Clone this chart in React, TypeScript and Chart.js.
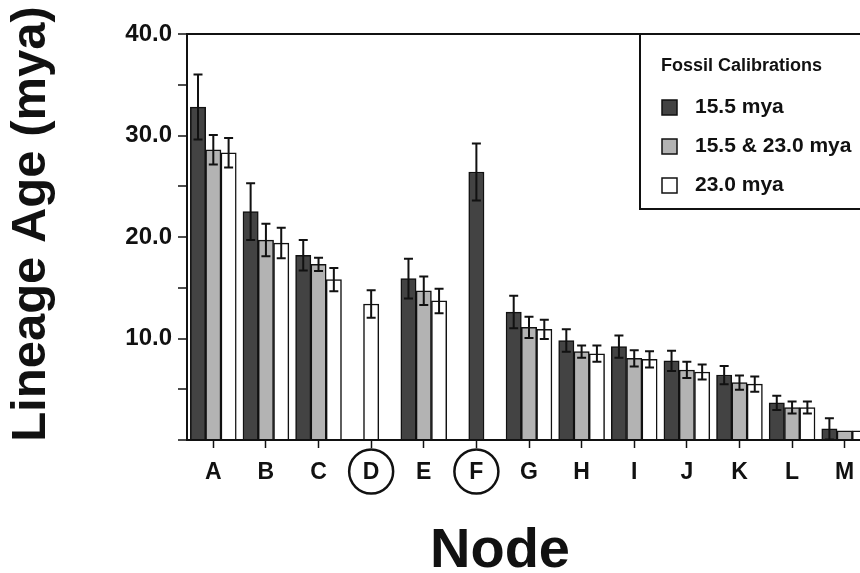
import React, { useEffect, useRef } from 'react';
import { Chart, registerables } from 'chart.js';

Chart.register(...registerables);

// ---------- data ----------
const nodes = ['A', 'B', 'C', 'D', 'E', 'F', 'G', 'H', 'I', 'J', 'K', 'L', 'M'];
const circledNodes = ['D', 'F'];
const seriesLabels = ['15.5 mya', '15.5 & 23.0 mya', '23.0 mya'];
const legendTitle = 'Fossil Calibrations';
const xTitle = 'Node';
const yTitle = 'Lineage Age (mya)';

const cal155 = [32.8, 22.5, 18.2, null, 15.9, 26.4, 12.6, 9.8, 9.2, 7.8, 6.4, 3.65, 1.1];
const cal155Err = [3.2, 2.8, 1.5, null, 1.95, 2.8, 1.6, 1.1, 1.1, 1.0, 0.9, 0.7, 1.05];
const calBoth = [28.6, 19.7, 17.3, null, 14.7, null, 11.1, 8.7, 8.05, 6.9, 5.65, 3.2, 0.9];
const calBothErr = [1.45, 1.6, 0.65, null, 1.4, null, 1.05, 0.6, 0.8, 0.8, 0.7, 0.6, 0];
const cal230 = [28.3, 19.4, 15.8, 13.4, 13.7, null, 10.9, 8.5, 7.95, 6.7, 5.5, 3.2, 0.9];
const cal230Err = [1.45, 1.5, 1.15, 1.35, 1.2, null, 0.95, 0.8, 0.8, 0.75, 0.75, 0.6, 0];

const yMin = 0;
const yMax = 40;
const yStep = 5;
const yLabelEvery = 10;

// ---------- styles ----------
const FONT = '"Liberation Sans", Arial, Helvetica, sans-serif';
const INK = '#111111';
const fills = ['#434343', '#b3b3b3', '#ffffff'];

const errorBarPlugin = {
  id: 'errorBars',
  afterDatasetsDraw(chart: any) {
    const { ctx } = chart;
    const yScale = chart.scales.y;
    ctx.save();
    ctx.strokeStyle = INK;
    ctx.lineWidth = 2;
    chart.data.datasets.forEach((ds: any, i: number) => {
      const meta = chart.getDatasetMeta(i);
      meta.data.forEach((bar: any, j: number) => {
        const v = ds.data[j];
        const e = ds.errors[j];
        if (v == null || !e) return;
        const yHi = yScale.getPixelForValue(v + e);
        const yLo = yScale.getPixelForValue(v - e);
        const x = bar.x;
        const cap = 4.5;
        ctx.beginPath();
        ctx.moveTo(x, yLo);
        ctx.lineTo(x, yHi);
        ctx.moveTo(x - cap, yHi);
        ctx.lineTo(x + cap, yHi);
        ctx.moveTo(x - cap, yLo);
        ctx.lineTo(x + cap, yLo);
        ctx.stroke();
      });
    });
    ctx.restore();
  },
};

const decorPlugin = {
  id: 'decor',
  afterDraw(chart: any) {
    const { ctx, chartArea } = chart;
    const xScale = chart.scales.x;
    ctx.save();

    // circles around calibration nodes
    ctx.strokeStyle = INK;
    ctx.lineWidth = 2.5;
    circledNodes.forEach((n) => {
      const idx = nodes.indexOf(n);
      const cx = xScale.getPixelForValue(idx);
      const cy = xScale.top + 31.5;
      ctx.beginPath();
      ctx.arc(cx, cy, 22, 0, Math.PI * 2);
      ctx.stroke();
    });

    // legend box
    const left = 640;
    const top = chartArea.top;
    const bottom = 209;
    ctx.fillStyle = '#ffffff';
    ctx.fillRect(left, top, chart.width + 20 - left, bottom - top);
    ctx.lineWidth = 2;
    ctx.strokeStyle = INK;
    ctx.strokeRect(left, top, chart.width + 20 - left, bottom - top);

    ctx.fillStyle = INK;
    ctx.textBaseline = 'middle';
    ctx.textAlign = 'left';
    ctx.font = `bold 18px ${FONT}`;
    ctx.fillText(legendTitle, 661, 66);

    chart.data.datasets.forEach((ds: any, i: number) => {
      const cy = 107 + i * 39;
      ctx.fillStyle = ds.backgroundColor;
      ctx.fillRect(662, cy - 7, 15, 15);
      ctx.lineWidth = 1.5;
      ctx.strokeStyle = INK;
      ctx.strokeRect(662, cy - 7, 15, 15);
      ctx.fillStyle = INK;
      ctx.font = `bold 21px ${FONT}`;
      ctx.fillText(ds.label, 695, cy);
    });

    // axis titles
    ctx.fillStyle = INK;
    ctx.textAlign = 'center';
    ctx.textBaseline = 'middle';
    ctx.font = `bold 56px ${FONT}`;
    ctx.fillText(xTitle, 500, 552);

    ctx.save();
    ctx.translate(31, 224);
    ctx.rotate(-Math.PI / 2);
    ctx.font = `bold 49px ${FONT}`;
    ctx.fillText(yTitle, 0, 0);
    ctx.restore();

    ctx.restore();
  },
};

export default function App() {
  const ref = useRef<HTMLCanvasElement>(null);

  useEffect(() => {
    if (!ref.current) return;
    const chart = new Chart(ref.current, {
      type: 'bar',
      data: {
        labels: nodes,
        datasets: [
          { label: seriesLabels[0], data: cal155, errors: cal155Err, backgroundColor: fills[0] } as any,
          { label: seriesLabels[1], data: calBoth, errors: calBothErr, backgroundColor: fills[1] } as any,
          { label: seriesLabels[2], data: cal230, errors: cal230Err, backgroundColor: fills[2] } as any,
        ],
      },
      options: {
        responsive: false,
        animation: false,
        devicePixelRatio: 1,
        layout: { padding: { left: 0, top: 34, right: 9, bottom: 0 } },
        datasets: {
          bar: {
            barThickness: 15.3,
            skipNull: true,
            borderWidth: 1.5,
            borderColor: INK,
          } as any,
        },
        plugins: {
          legend: { display: false },
          tooltip: { enabled: false },
        },
        scales: {
          x: {
            type: 'category',
            offset: true,
            grid: {
              offset: false,
              drawOnChartArea: false,
              drawTicks: true,
              tickLength: 8,
              tickWidth: 1.5,
              tickColor: INK,
            },
            border: { display: true, color: INK, width: 2 },
            ticks: {
              color: INK,
              font: { family: FONT, size: 23, weight: 'bold' },
              padding: 11,
              maxRotation: 0,
              autoSkip: false,
            },
            afterFit: (s: any) => {
              s.height = 133;
            },
          },
          y: {
            min: yMin,
            max: yMax,
            ticks: {
              stepSize: yStep,
              color: INK,
              font: { family: FONT, size: 24, weight: 'bold' },
              padding: 6,
              callback: (v: any) => (v % yLabelEvery === 0 && v > yMin ? Number(v).toFixed(1) : ''),
            },
            grid: {
              drawOnChartArea: true,
              color: (c: any) => (c.tick && c.tick.value === yMax ? INK : 'rgba(0,0,0,0)'),
              lineWidth: 2,
              tickColor: INK,
              tickWidth: 1.5,
              tickLength: 9,
            },
            border: { display: true, color: INK, width: 2 },
            afterFit: (s: any) => {
              s.width = 187;
            },
          },
        },
      } as any,
      plugins: [errorBarPlugin, decorPlugin],
    });
    return () => chart.destroy();
  }, []);

  return (
    <div
      style={{
        position: 'fixed',
        left: 0,
        top: 0,
        width: 860,
        height: 573,
        overflow: 'hidden',
        background: '#ffffff',
      }}
    >
      <canvas ref={ref} width={880} height={573} style={{ display: 'block', width: 880, height: 573 }} />
    </div>
  );
}
